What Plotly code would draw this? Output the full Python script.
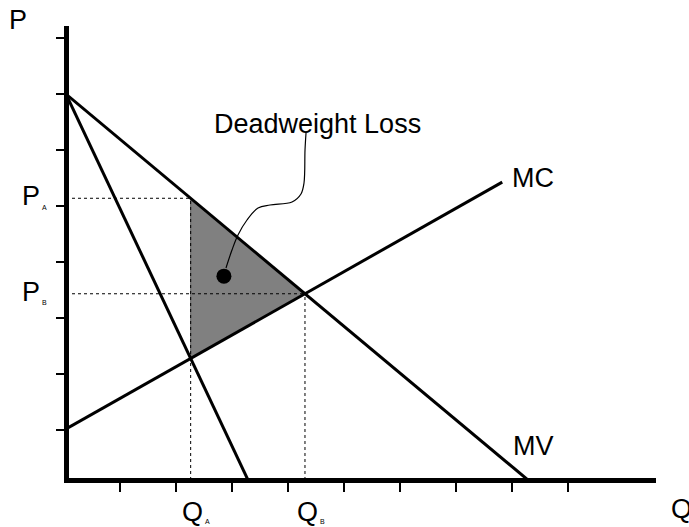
import numpy as np
import plotly.graph_objects as go

# ---- data (chart units: one tick step = 1) ----
mv_q = [0.0, 8.25]
mv_p = [6.89, 0.0]
mr_q = [0.0, 3.25]
mr_p = [6.89, 0.0]
mc_q = [0.0, 7.79]
mc_p = [0.91, 5.32]

x_ticks = [0.97 + k for k in range(9)]
y_ticks = [0.9 + k for k in range(8)]

dwl_dot_q = [2.82]
dwl_dot_p = [3.64]
leader_q = [2.857, 2.964, 3.071, 3.232, 3.429, 3.643, 4.036, 4.196, 4.25, 4.268, 4.286]
leader_p = [3.786, 4.107, 4.375, 4.643, 4.857, 4.911, 4.964, 5.107, 5.304, 5.893, 6.196]


def line_coef(q, p):
    m = (p[1] - p[0]) / (q[1] - q[0])
    return m, p[0] - m * q[0]


def intersect(a, b):
    m1, c1 = a
    m2, c2 = b
    x = (c2 - c1) / (m1 - m2)
    return x, m1 * x + c1


MV = line_coef(mv_q, mv_p)
MR = line_coef(mr_q, mr_p)
MC = line_coef(mc_q, mc_p)
QA, P_low = intersect(MR, MC)
PA = MV[0] * QA + MV[1]
QB, PB = intersect(MV, MC)

FONT = "Liberation Sans, Arial, sans-serif"
W, H = 689, 527
L, R, T, B = 69, 33, 26, 49
PX = 56.0  # pixels per unit
X0PX, Y0PX = 66.0, 480.0
xr = [(L - X0PX) / PX, (W - R - X0PX) / PX]
yr = [(Y0PX - (H - B)) / PX, (Y0PX - T) / PX]


def pxp(px, py):
    return (px - L) / (W - L - R), ((H - B) - py) / (H - T - B)


fig = go.Figure()

# shaded deadweight loss triangle
fig.add_trace(go.Scatter(x=[QA, QA, QB, QA], y=[PA, P_low, PB, PA], mode="lines",
                         fill="toself", fillcolor="#808080",
                         line=dict(color="#606060", width=1), hoverinfo="skip"))

dot = dict(color="black", width=1, dash="dot")
fig.add_trace(go.Scatter(x=[0, QA], y=[PA, PA], mode="lines", line=dot))
fig.add_trace(go.Scatter(x=[0, QB], y=[PB, PB], mode="lines", line=dot))
fig.add_trace(go.Scatter(x=[QA, QA], y=[0, PA], mode="lines", line=dot))
fig.add_trace(go.Scatter(x=[QB, QB], y=[0, PB], mode="lines", line=dot))

solid = dict(color="black", width=3)
fig.add_trace(go.Scatter(x=mv_q, y=mv_p, mode="lines", line=solid))
fig.add_trace(go.Scatter(x=mr_q, y=mr_p, mode="lines", line=solid))
fig.add_trace(go.Scatter(x=mc_q, y=mc_p, mode="lines", line=solid))

fig.add_trace(go.Scatter(x=leader_q, y=leader_p, mode="lines",
                         line=dict(color="black", width=1.2, shape="spline")))
fig.add_trace(go.Scatter(x=dwl_dot_q, y=dwl_dot_p, mode="markers",
                         marker=dict(color="black", size=15)))

anns = []


def label(text, px, py, size=27, xanchor="center"):
    x, y = pxp(px, py)
    anns.append(dict(text=text, x=x, y=y, xref="paper", yref="paper", showarrow=False,
                     xanchor=xanchor, yanchor="middle",
                     font=dict(family=FONT, size=size, color="black")))


label("P", 18, 20)
label("Q", 669, 509, xanchor="left")
label("MC", 533, 178)
label("MV", 533, 446)
label("Deadweight Loss", 317, 124)
label("P", 31, 196)
label("A", 44, 207, size=7)
label("P", 31, 292)
label("B", 44, 302, size=7)
label("Q", 192, 512)
label("A", 207, 521, size=7)
label("Q", 307, 512)
label("B", 322, 521, size=7)

fig.update_layout(
    width=W, height=H, margin=dict(l=L, r=R, t=T, b=B),
    paper_bgcolor="white", plot_bgcolor="white", showlegend=False,
    annotations=anns,
    xaxis=dict(range=xr, showgrid=False, zeroline=False, showline=True, linecolor="black",
               linewidth=5, ticks="outside", tickvals=x_ticks, ticklen=9, tickwidth=1.5,
               tickcolor="black", showticklabels=False, fixedrange=True),
    yaxis=dict(range=yr, showgrid=False, zeroline=False, showline=True, linecolor="black",
               linewidth=5, ticks="outside", tickvals=y_ticks, ticklen=8, tickwidth=1.5,
               tickcolor="black", showticklabels=False, fixedrange=True),
)

fig.write_html("out.html", config={"displayModeBar": False})

# remove the default page margin so the chart sits at the window's top-left corner
with open("out.html", "r", encoding="utf-8") as f:
    html = f.read()
html = html.replace("<head>", "<head><style>html,body{margin:0;padding:0;overflow:hidden;}</style>", 1)
with open("out.html", "w", encoding="utf-8") as f:
    f.write(html)
